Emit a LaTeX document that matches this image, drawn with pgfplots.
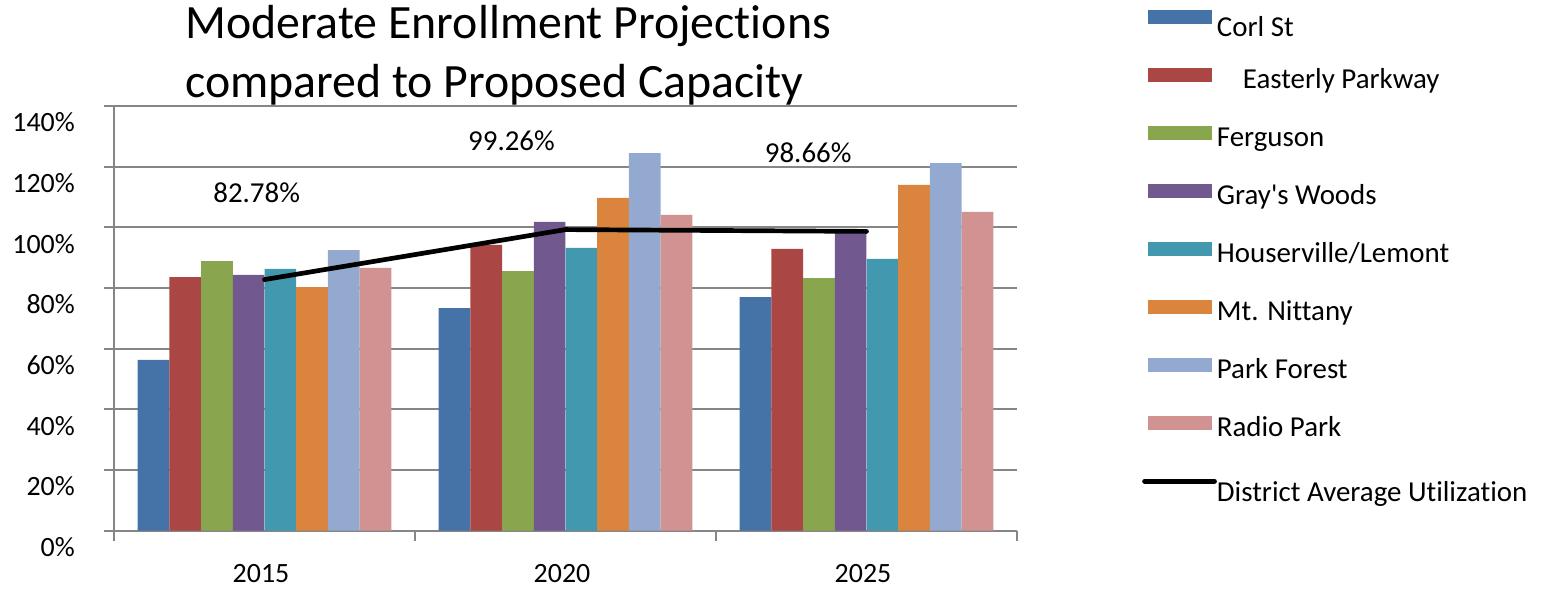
\documentclass[border=0pt]{standalone}
\usepackage{fontspec}
\setmainfont{Carlito}[Ligatures={NoCommon,NoContextual,NoRare}, Contextuals={NoAlternate}]
\usepackage{pgfplots}
\pgfplotsset{compat=1.18}

\definecolor{cCorl}{HTML}{4572A7}
\definecolor{cEast}{HTML}{AA4643}
\definecolor{cFerg}{HTML}{89A54E}
\definecolor{cGray}{HTML}{71588F}
\definecolor{cHous}{HTML}{4198AF}
\definecolor{cNitt}{HTML}{DB843D}
\definecolor{cPark}{HTML}{93A9CF}
\definecolor{cRadi}{HTML}{D19392}
\definecolor{axgray}{HTML}{868686}

\pgfplotsset{
  schoolbar/.style={ybar, bar width=0.10532, bar shift=#1, draw=none},
}

\begin{document}
\begin{tikzpicture}
\useasboundingbox (-114bp,-58.3bp) rectangle (1429bp,530.7bp);
\begin{axis}[
  scale only axis,
  width=903bp, height=424.7bp,
  xmin=-0.5, xmax=2.5,
  ymin=0, ymax=140,
  xtick={0,1,2},
  xticklabels={2015,2020,2025},
  minor xtick={-0.5,0.5,1.5,2.5},
  ytick={0,20,...,140},
  yticklabels={0\%,20\%,40\%,60\%,80\%,100\%,120\%,140\%},
  axis x line*=bottom,
  axis y line*=left,
  axis line style={axgray, line width=2bp},
  tick align=outside,
  major tick length=10bp,
  minor tick length=10bp,
  tick style={axgray, line width=2bp},
  major x tick style={draw=none},
  ymajorgrids,
  grid style={axgray, line width=2bp},
  ticklabel style={font=\fontsize{28}{34}\selectfont},
  yticklabel style={anchor=east, inner sep=0pt, xshift=-29bp, yshift=-16.5bp},
  xticklabel style={anchor=base, inner sep=0pt, xshift=-3.5bp, yshift=-42bp},
  clip=false,
  legend style={
    at={(axis description cs:1.13843,1.24488)}, anchor=north west,
    draw=none, fill=none, inner sep=0pt,
    font=\fontsize{29}{35}\selectfont,
    nodes={inner sep=0pt, text height=28bp, text depth=6bp},
    row sep=24bp,
    /tikz/every even column/.append style={column sep=5bp},
  },
  legend cell align=left,
  legend image code/.code={\fill[#1] (3bp,-5bp) rectangle (67bp,9bp); \path (0bp,2bp) (70bp,2bp);},
]
\addplot[schoolbar=-0.3686, fill=cCorl] coordinates {(0,56.3) (1,73.4) (2,77.0)};
\addlegendentry{\raisebox{-6bp}{Corl St}}
\addplot[schoolbar=-0.2633, fill=cEast] coordinates {(0,83.6) (1,94.2) (2,92.9)};
\addlegendentry{\hspace*{26bp}Easterly Parkway}
\addplot[schoolbar=-0.1580, fill=cFerg] coordinates {(0,88.9) (1,85.6) (2,83.3)};
\addlegendentry{Ferguson}
\addplot[schoolbar=-0.0527, fill=cGray] coordinates {(0,84.3) (1,101.8) (2,99.4)};
\addlegendentry{Gray\textquotesingle s Woods}
\addplot[schoolbar=0.0527, fill=cHous] coordinates {(0,86.3) (1,93.2) (2,89.6)};
\addlegendentry{Houserville/Lemont}
\addplot[schoolbar=0.1580, fill=cNitt] coordinates {(0,80.3) (1,109.7) (2,114.0)};
\addlegendentry{Mt. Nittany}
\addplot[schoolbar=0.2633, fill=cPark] coordinates {(0,92.5) (1,124.5) (2,121.2)};
\addlegendentry{Park Forest}
\addplot[schoolbar=0.3686, fill=cRadi] coordinates {(0,86.6) (1,104.1) (2,105.1)};
\addlegendentry{Radio Park}
\addplot[black, line width=4.7bp, mark=none, line cap=round,
  legend image code/.code={\draw[black, line width=4.7bp] (0bp,2bp) -- (70bp,2bp);}]
  coordinates {(0,82.78) (1,99.26) (2,98.66)};
\addlegendentry{\raisebox{-7.7bp}{District Average Utilizat\kern0pt ion}}

\node[font=\fontsize{29}{35}\selectfont, inner sep=0pt] at (axis cs:-0.026,111.5) {82.78\%};
\node[font=\fontsize{29}{35}\selectfont, inner sep=0pt] at (axis cs:0.8206,128.5) {99.26\%};
\node[font=\fontsize{29}{35}\selectfont, inner sep=0pt] at (axis cs:1.8063,124.6) {98.66\%};
\end{axis}
\node[anchor=base west, inner sep=0pt, font=\fontsize{48}{57}\selectfont] at (71bp,492.4bp) {Moderate Enrollment Project\kern0pt ions};
\node[anchor=base west, inner sep=0pt, font=\fontsize{48}{57}\selectfont] at (71bp,433bp) {compared to Proposed Capacity};
\end{tikzpicture}
\end{document}
